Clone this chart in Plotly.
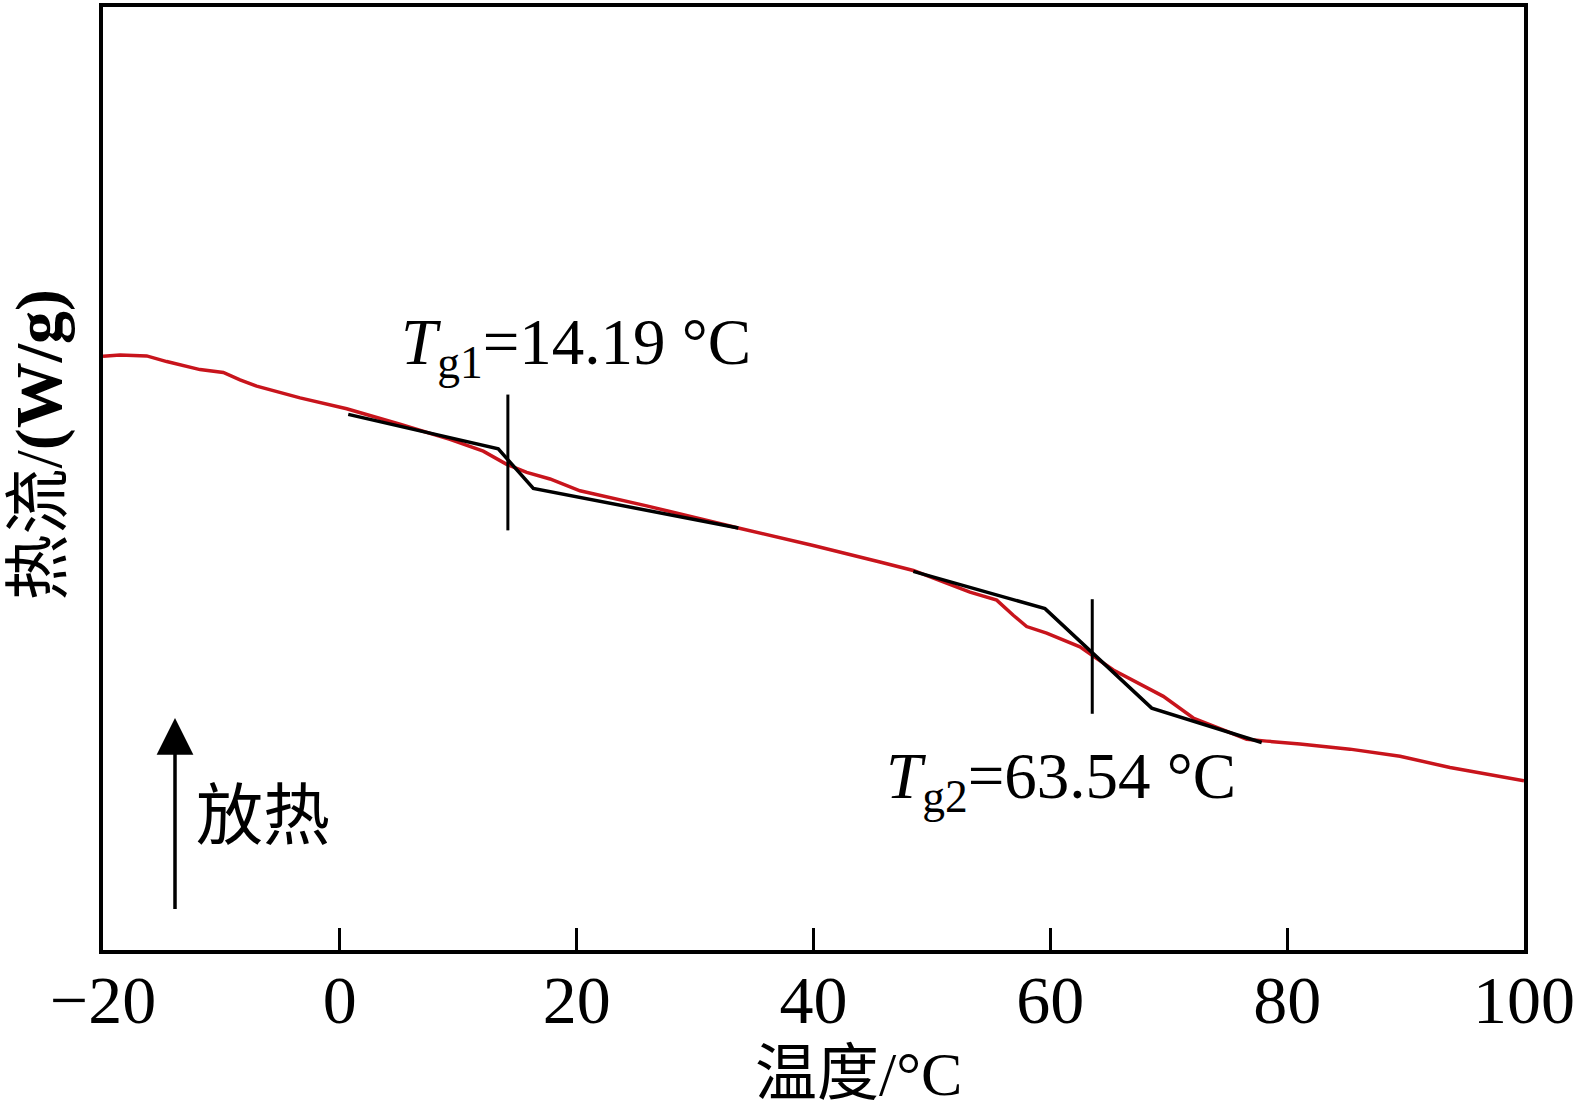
import plotly.graph_objects as go

# DSC curve (temperature in °C, heat flow in arbitrary W/g units)
temp = [-20.0, -18.56, -16.31, -14.62, -11.81, -9.84, -8.43, -7.02, -3.36, 0.58,
        5.08, 9.30, 12.11, 14.09, 15.78, 17.75, 20.28, 25.91, 33.65, 39.98,
        45.61, 48.43, 53.21, 55.47, 56.87, 58.00, 59.69, 62.50, 65.32, 69.54,
        72.07, 76.58, 78.27, 81.08, 85.30, 89.53, 93.75, 100.0]
heat_flow = [-0.741, -0.738, -0.740, -0.752, -0.769, -0.775, -0.791, -0.804, -0.829, -0.852,
             -0.885, -0.917, -0.942, -0.970, -0.987, -1.001, -1.026, -1.058, -1.105, -1.142,
             -1.177, -1.195, -1.241, -1.258, -1.290, -1.314, -1.328, -1.357, -1.406, -1.462,
             -1.508, -1.553, -1.557, -1.563, -1.574, -1.589, -1.613, -1.641]

# Tangent construction lines
tg1_x = [0.71, 13.38, 16.34, 33.65]
tg1_y = [-0.864, -0.937, -1.021, -1.105]
tg2_x = [48.43, 59.55, 68.56, 77.85]
tg2_y = [-1.197, -1.276, -1.487, -1.560]

# Glass transition temperatures and marker extents
tg_values = [14.19, 63.54]
tg_marker_y = [[-0.822, -1.110], [-1.256, -1.499]]
tg_labels = ["<i>T</i><sub>g1</sub>=14.19 °C", "<i>T</i><sub>g2</sub>=63.54 °C"]

x_ticks = [-20, 0, 20, 40, 60, 80, 100]
x_title = "温度/°C"
y_title = "热流/<b>(W/g)</b>"
exo_label = "放热"

SERIF = "Liberation Serif, Noto Sans CJK SC"

fig = go.Figure()
fig.add_trace(go.Scatter(x=temp, y=heat_flow, mode="lines",
                         line=dict(color="#c8141c", width=3.5), hoverinfo="skip"))
fig.add_trace(go.Scatter(x=tg1_x, y=tg1_y, mode="lines",
                         line=dict(color="black", width=3.5), hoverinfo="skip"))
fig.add_trace(go.Scatter(x=tg2_x, y=tg2_y, mode="lines",
                         line=dict(color="black", width=3.5), hoverinfo="skip"))
for tv, (y0, y1) in zip(tg_values, tg_marker_y):
    fig.add_trace(go.Scatter(x=[tv, tv], y=[y0, y1], mode="lines",
                             line=dict(color="black", width=3), hoverinfo="skip"))

annotations = [
    dict(x=5.0, y=-0.722, xref="x", yref="y", text=tg_labels[0], showarrow=False,
         xanchor="left", yanchor="middle", font=dict(family=SERIF, size=65, color="black")),
    dict(x=45.95, y=-1.642, xref="x", yref="y", text=tg_labels[1], showarrow=False,
         xanchor="left", yanchor="middle", font=dict(family=SERIF, size=65, color="black")),
    dict(x=-6.49, y=-1.703, xref="x", yref="y", text=exo_label, showarrow=False,
         xanchor="center", yanchor="middle", font=dict(family="Noto Sans CJK SC", size=67, color="black")),
    dict(x=-13.92, y=-1.508, ax=-13.92, ay=-1.916, xref="x", yref="y", axref="x", ayref="y",
         text="", showarrow=True, arrowhead=2, arrowwidth=3.5, arrowsize=2.1, arrowcolor="black"),
    # axis titles
    dict(x=0.532, y=-0.1319, xref="paper", yref="paper", text=x_title, showarrow=False,
         xanchor="center", yanchor="middle", font=dict(family=SERIF, size=62, color="black")),
    dict(x=-0.0457, y=0.536, xref="paper", yref="paper", text=y_title, showarrow=False,
         textangle=-90, xanchor="center", yanchor="middle",
         font=dict(family=SERIF, size=66, color="black")),
]

fig.update_layout(
    width=1585, height=1111,
    margin=dict(l=103, r=61, t=3, b=161),
    plot_bgcolor="white", paper_bgcolor="white",
    showlegend=False,
    annotations=annotations,
    xaxis=dict(range=[-20, 100], tickvals=x_ticks, ticks="inside", ticklen=22, tickwidth=2.5,
               tickcolor="black", showline=True, linewidth=3.5, linecolor="black", mirror=True,
               showgrid=False, zeroline=False, ticklabelstandoff=-12,
               tickfont=dict(family=SERIF, size=68, color="black")),
    yaxis=dict(range=[-2.0, 0.0], showticklabels=False, ticks="", showline=True, linewidth=3.5,
               linecolor="black", mirror=True, showgrid=False, zeroline=False),
)

fig.write_html("out.html")
